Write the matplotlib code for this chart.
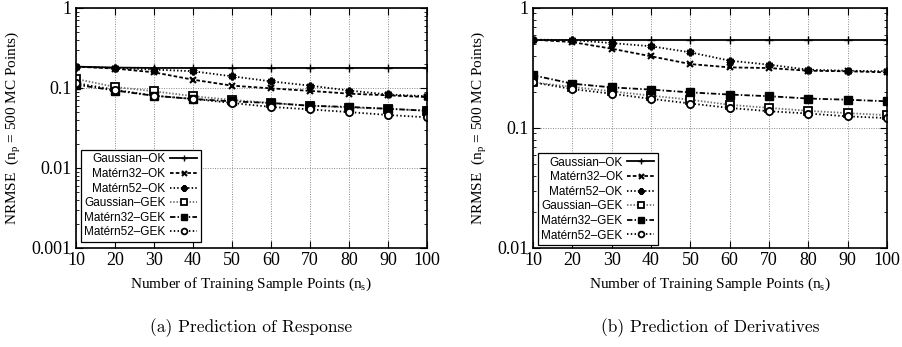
import numpy as np
import matplotlib
matplotlib.use("Agg")
import matplotlib.pyplot as plt
from matplotlib.ticker import LogLocator, NullFormatter, FixedLocator, FuncFormatter

# Training sample counts
n_samples = [10, 20, 30, 40, 50, 60, 70, 80, 90, 100]

labels = ["Gaussian–OK", "Matérn32–OK", "Matérn52–OK",
          "Gaussian–GEK", "Matérn32–GEK", "Matérn52–GEK"]

# NRMSE, prediction of response
resp_gauss_ok = [0.185, 0.180, 0.178, 0.178, 0.178, 0.178, 0.178, 0.178, 0.178, 0.178]
resp_m32_ok = [0.185, 0.175, 0.157, 0.127, 0.107, 0.099, 0.092, 0.085, 0.081, 0.077]
resp_m52_ok = [0.185, 0.178, 0.170, 0.162, 0.140, 0.121, 0.107, 0.093, 0.083, 0.079]
resp_gauss_gek = [0.130, 0.103, 0.091, 0.079, 0.071, 0.065, 0.060, 0.057, 0.055, 0.052]
resp_m32_gek = [0.110, 0.093, 0.080, 0.073, 0.068, 0.065, 0.060, 0.058, 0.055, 0.052]
resp_m52_gek = [0.115, 0.095, 0.080, 0.073, 0.065, 0.058, 0.054, 0.050, 0.046, 0.043]

# NRMSE, prediction of derivatives
deriv_gauss_ok = [0.545, 0.545, 0.545, 0.545, 0.545, 0.545, 0.545, 0.545, 0.545, 0.545]
deriv_m32_ok = [0.545, 0.520, 0.458, 0.396, 0.341, 0.320, 0.316, 0.300, 0.297, 0.291]
deriv_m52_ok = [0.545, 0.540, 0.510, 0.480, 0.427, 0.364, 0.337, 0.306, 0.300, 0.297]
deriv_gauss_gek = [0.240, 0.220, 0.202, 0.186, 0.172, 0.156, 0.147, 0.139, 0.133, 0.128]
deriv_m32_gek = [0.275, 0.234, 0.218, 0.209, 0.198, 0.190, 0.184, 0.176, 0.172, 0.167]
deriv_m52_gek = [0.240, 0.211, 0.193, 0.175, 0.160, 0.147, 0.138, 0.132, 0.125, 0.121]

styles = [
    dict(ls="-", marker="+", ms=5.5, mew=1.0, color="black"),
    dict(ls=(0, (2, 1.2)), marker="x", ms=4.5, mew=1.5, color="black"),
    dict(ls=(0, (0.8, 1.2)), marker=(6, 2, 0), ms=5.5, mew=2.0, color="black"),
    dict(ls=(0, (0.8, 1)), marker="s", ms=5.2, mew=1.3, color="#707070",
         mec="black", mfc="white"),
    dict(ls=(0, (3, 1.2, 0.8, 1.2)), marker="s", ms=5.2, mew=1.0, color="black"),
    dict(ls=(0, (0.8, 1.3)), marker="o", ms=5.2, mew=1.3, color="black",
         mfc="white"),
]

tick_font = "Liberation Serif"
leg_font = "Liberation Sans"


def fmt_log(v, pos):
    return ("%g" % v)


def draw_panel(ax, series, ymin, caption, legend_y):
    for ys, lab, st in zip(series, labels, styles):
        ax.plot(n_samples, ys, label=lab, lw=1.3, **st)

    ax.set_yscale("log")
    ax.set_xlim(10, 100)
    ax.set_ylim(ymin, 1)
    ax.xaxis.set_major_locator(FixedLocator(n_samples))
    ax.yaxis.set_major_locator(LogLocator(base=10))
    ax.yaxis.set_minor_locator(LogLocator(base=10, subs=np.arange(2, 10)))
    ax.yaxis.set_minor_formatter(NullFormatter())
    ax.yaxis.set_major_formatter(FuncFormatter(fmt_log))

    ax.tick_params(which="both", direction="in", top=True, right=True,
                   labelsize=13, pad=3)
    ax.tick_params(which="major", length=5, width=0.8)
    ax.tick_params(which="minor", length=2.5, width=0.6)
    for t in ax.get_xticklabels() + ax.get_yticklabels():
        t.set_fontfamily(tick_font)

    ax.grid(True, which="major", ls=(0, (1, 1.5)), color="#888888", lw=0.7)
    for sp in ax.spines.values():
        sp.set_linewidth(1.2)

    ax.set_xlabel(r"Number of Training Sample Points (n$_\mathregular{s}$)",
                  fontfamily=tick_font, fontsize=11, labelpad=5)
    ax.set_ylabel(r"NRMSE  (n$_\mathregular{p}$ = 500 MC Points)",
                  fontfamily=tick_font, fontsize=11, labelpad=6)

    leg = ax.legend(loc="lower left", bbox_to_anchor=(0.013, legend_y),
                    markerfirst=False, prop={"family": leg_font, "size": 8.5},
                    markerscale=0.8, handlelength=2.3, handletextpad=0.4,
                    labelspacing=0.22, borderpad=0.3, borderaxespad=0,
                    fancybox=False, framealpha=1, edgecolor="black")
    leg.get_frame().set_linewidth(0.9)

    ax.text(0.5, -0.33, caption, transform=ax.transAxes, ha="center",
            va="center", fontfamily="cmr10", fontsize=12.5)


fig = plt.figure(figsize=(9.03, 3.47), dpi=100)
bottom = (347 - 248) / 347
height = (248 - 8) / 347
ax1 = fig.add_axes([76 / 903, bottom, (427 - 76) / 903, height])
ax2 = fig.add_axes([533 / 903, bottom, (887 - 533) / 903, height])

draw_panel(ax1, [resp_gauss_ok, resp_m32_ok, resp_m52_ok,
                 resp_gauss_gek, resp_m32_gek, resp_m52_gek],
           0.001, "(a) Prediction of Response", 0.025)
draw_panel(ax2, [deriv_gauss_ok, deriv_m32_ok, deriv_m52_ok,
                 deriv_gauss_gek, deriv_m32_gek, deriv_m52_gek],
           0.01, "(b) Prediction of Derivatives", 0.012)

fig.savefig("out.png", dpi=100)
